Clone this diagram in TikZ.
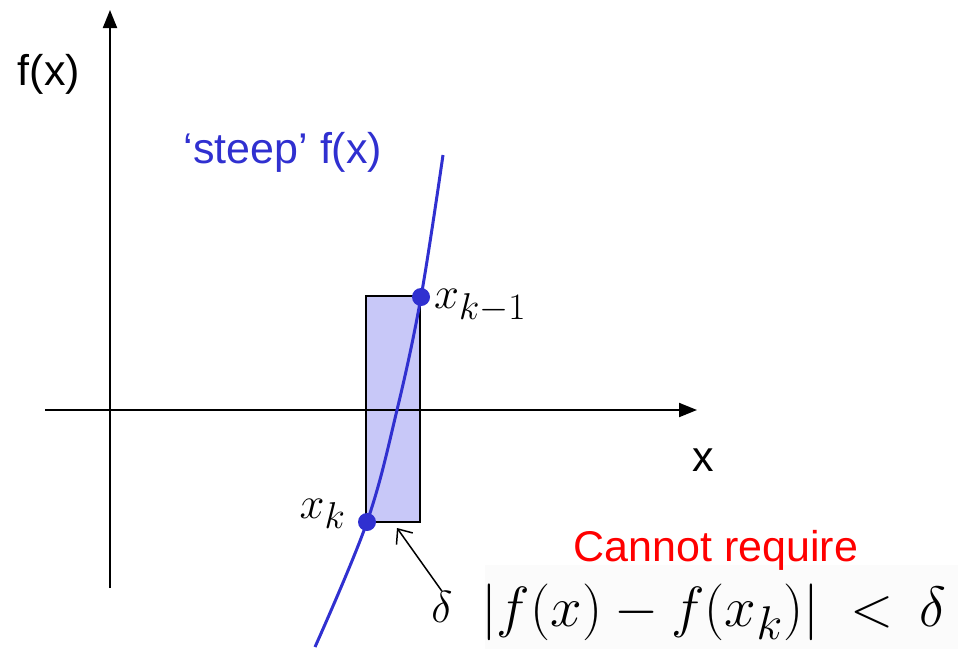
\documentclass[tikz,border=0pt]{standalone}
\usepackage{fontspec}
\setmainfont{Liberation Sans}
\usepackage{amsmath}
\usepackage{graphicx}
\usetikzlibrary{positioning,arrows.meta,calc}
\definecolor{curveblue}{RGB}{48,48,208}
\definecolor{boxfill}{RGB}{200,200,248}
\newcommand{\bigmath}[2][1.8]{\scalebox{#1}{\Huge$#2$}}
\tikzset{
  axis/.style={line width=2pt,-{Triangle[length=18pt,width=14pt]}},
  lbl/.style={font=\fontsize{43}{48}\selectfont,inner sep=0pt},
  mlbl/.style={inner sep=0pt},
  dot/.style={circle,fill=curveblue,minimum size=18pt,inner sep=0pt}
}
\begin{document}
\begin{tikzpicture}[x=1pt,y=-1pt]
\useasboundingbox (0,0) rectangle (958,649);
% formula background
\fill[gray!3] (485,565) rectangle (958,649);
% interval box
\draw[fill=boxfill,line width=1.5pt] (366,296) rectangle (420,522);
% axes
\coordinate (xs) at (45,410);
\coordinate (xe) at (697,410);
\coordinate (ys) at (110,588);
\coordinate (ye) at (110,10);
\draw[axis] (xs) -- (xe);
\draw[axis] (ys) -- (ye);
\node[lbl] (xlab) at (703,460) {x};
\node[lbl] (ylab) at (49,74) {f(x)};
% steep curve
\draw[curveblue,line width=3pt] plot[smooth,tension=0.6] coordinates {(315,647) (367,522) (397,410) (421,297) (443,155)};
\node[dot] (xk) at (367,522) {};
\node[dot] (xkm) at (421,297) {};
\node[mlbl,anchor=west] (lkm) at (434,306) {\bigmath{x_{k-1}}};
\node[mlbl,anchor=east] (lk) at (346,514) {\bigmath{x_k}};
\node[lbl,text=curveblue] (steep) at (283,152) {`steep' f(x)};
% tolerance labels
\node[lbl,text=red] (cannot) at (716,550) {Cannot require};
\node[mlbl] (delta) at (442,607) {\bigmath{\delta}};
\node[mlbl,anchor=west] (cond) at (481,612) {\bigmath[2.28]{|f(x)-f(x_k)|\;<\,\delta}};
\draw[-{Straight Barb[length=12pt,width=20pt]},line width=1.5pt] (delta.north) -- (397,528);
\end{tikzpicture}
\end{document}
